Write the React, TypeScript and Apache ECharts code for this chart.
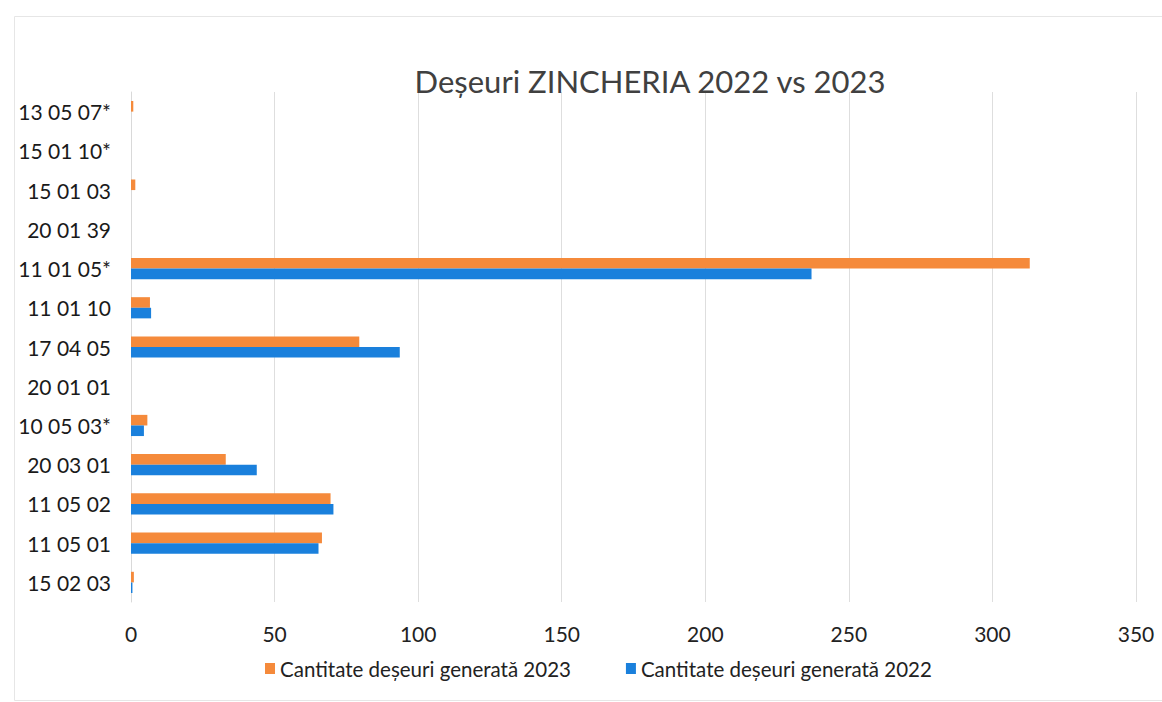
import React, { useEffect, useRef } from "react";
import * as echarts from "echarts";

const categories = [
  "15 02 03",
  "11 05 01",
  "11 05 02",
  "20 03 01",
  "10 05 03*",
  "20 01 01",
  "17 04 05",
  "11 01 10",
  "11 01 05*",
  "20 01 39",
  "15 01 03",
  "15 01 10*",
  "13 05 07*",
];

const values2023 = [1, 66.5, 69.5, 33, 5.7, 0, 79.5, 6.6, 313, 0, 1.5, 0, 0.8];
const values2022 = [0.5, 65.3, 70.5, 43.8, 4.5, 0, 93.6, 7, 237, 0, 0, 0, 0];

const xTicks = { min: 0, max: 350, interval: 50 };

const seriesNames = [
  "Cantitate deșeuri generată 2023",
  "Cantitate deșeuri generată 2022",
];

const titleText = "Deșeuri ZINCHERIA 2022 vs 2023";

const FONT = "Lato, 'Open Sans', sans-serif";

export default function App() {
  const ref = useRef<HTMLDivElement>(null);
  useEffect(() => {
    if (!ref.current) return;
    const chart = echarts.init(ref.current, undefined, { renderer: "svg" });
    chart.setOption({
      animation: false,
      backgroundColor: "#ffffff",
      title: {
        text: titleText,
        left: 645,
        textAlign: "center",
        top: 60,
        textStyle: {
          fontFamily: FONT,
          fontSize: 31,
          fontWeight: "normal",
          color: "#404040",
        },
      },
      grid: { left: 131, right: 26, top: 92, bottom: 100, containLabel: false },
      legend: {
        orient: "horizontal",
        bottom: 18,
        left: 260,
        icon: "rect",
        itemWidth: 10,
        itemHeight: 11,
        itemGap: 55,
        textStyle: { fontFamily: FONT, fontSize: 20.5, color: "#222" },
        data: seriesNames,
      },
      xAxis: {
        type: "value",
        min: xTicks.min,
        max: xTicks.max,
        interval: xTicks.interval,
        axisLine: { show: false },
        axisTick: { show: false },
        splitLine: { lineStyle: { color: "#dedede", width: 1 } },
        axisLabel: {
          fontFamily: FONT,
          fontSize: 21,
          color: "#222",
          margin: 21,
        },
      },
      yAxis: {
        type: "category",
        data: categories,
        axisLine: { show: true, lineStyle: { color: "#d9d9d9" } },
        axisTick: { show: false },
        axisLabel: {
          fontFamily: FONT,
          fontSize: 21,
          color: "#1a1a1a",
          margin: 20,
        },
      },
      series: [
        {
          name: seriesNames[0],
          type: "bar",
          data: values2023,
          itemStyle: { color: "#F58A3B" },
          barGap: "0%",
          barCategoryGap: "46%",
        },
        {
          name: seriesNames[1],
          type: "bar",
          data: values2022,
          itemStyle: { color: "#1A80DC" },
          barGap: "0%",
          barCategoryGap: "46%",
        },
      ],
      graphic: [
        {
          type: "rect",
          left: 12,
          top: 14,
          shape: { width: 1148, height: 684 },
          style: { fill: "none", stroke: "#e6e6e6", lineWidth: 1 },
          silent: true,
        },
      ],
    });
    return () => chart.dispose();
  }, []);
  return (
    <div
      ref={ref}
      style={{ position: "fixed", left: 0, top: 0, width: 1162, height: 702 }}
    />
  );
}
